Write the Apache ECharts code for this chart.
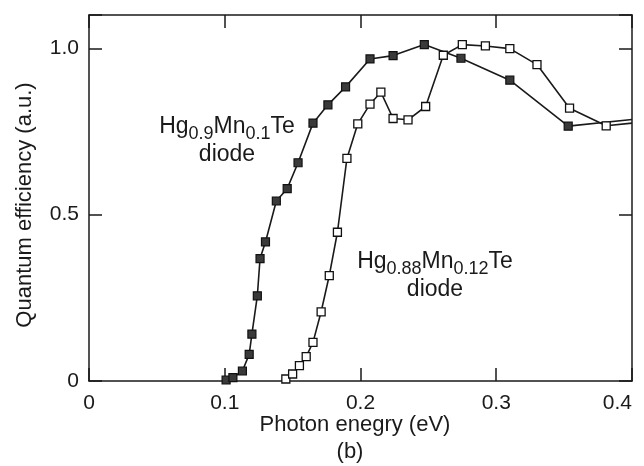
<!DOCTYPE html>
<html>
<head>
<meta charset="utf-8">
<script src="https://cdn.jsdelivr.net/npm/echarts@6/dist/echarts.min.js"></script>
<style>
  html, body { margin: 0; padding: 0; background: #fff; }
  #chart { width: 644px; height: 466px; }
</style>
</head>
<body>
<div id="chart"></div>
<script>
// Hg0.9Mn0.1Te diode (filled squares)
const filledX = [0.101, 0.106, 0.113, 0.118, 0.120, 0.124, 0.126, 0.130, 0.138, 0.146, 0.154, 0.165, 0.176, 0.189, 0.207, 0.224, 0.247, 0.274, 0.310, 0.353];
const filledY = [0.003, 0.010, 0.030, 0.080, 0.141, 0.256, 0.368, 0.418, 0.541, 0.578, 0.656, 0.775, 0.830, 0.884, 0.968, 0.978, 1.011, 0.970, 0.904, 0.766];
const filledTail = [0.400, 0.786];
// Hg0.88Mn0.12Te diode (open squares)
const openX = [0.145, 0.150, 0.155, 0.160, 0.165, 0.171, 0.177, 0.183, 0.190, 0.198, 0.207, 0.215, 0.224, 0.235, 0.248, 0.261, 0.275, 0.292, 0.310, 0.330, 0.354, 0.381];
const openY = [0.006, 0.021, 0.046, 0.073, 0.116, 0.208, 0.317, 0.447, 0.669, 0.773, 0.832, 0.868, 0.789, 0.785, 0.825, 0.979, 1.011, 1.007, 0.999, 0.951, 0.820, 0.767];
const openTail = [0.400, 0.775];

const xTickLabels = {0: '0', 0.1: '0.1', 0.2: '0.2', 0.3: '0.3', 0.4: '0.4'};
const yTickLabels = {0: '0', 0.5: '0.5', 1: '1.0'};
const xTitle = 'Photon enegry (eV)';
const yTitle = 'Quantum efficiency (a.u.)';
const panelTag = '(b)';

const FONT = '"Liberation Sans", Arial, sans-serif';
const INK = '#1a1a1a';

function buildData(xs, ys, tail) {
  const d = xs.map((x, i) => [x, ys[i]]);
  d.push({ value: tail, symbol: 'none' });
  return d;
}
function fmt(map) {
  return v => { const k = Math.round(v * 10) / 10; return map[k] !== undefined ? map[k] : ''; };
}

const chart = echarts.init(document.getElementById('chart'));
chart.setOption({
  animation: false,
  grid: { left: 89, right: 12, top: 15, bottom: 85, outerBoundsMode: 'none' },
  xAxis: [
    { type: 'value', min: 0, max: 0.4, interval: 0.1, position: 'bottom',
      axisLine: { show: true, onZero: false, lineStyle: { color: INK, width: 1.5 } },
      axisTick: { show: true, inside: true, length: 13, lineStyle: { color: INK, width: 1.5 } },
      axisLabel: { formatter: fmt(xTickLabels), fontFamily: FONT, fontSize: 21, color: INK, margin: 12, alignMaxLabel: 'right' },
      splitLine: { show: false } },
    { type: 'value', min: 0, max: 0.4, interval: 0.1, position: 'top',
      axisLine: { show: true, onZero: false, lineStyle: { color: INK, width: 1.5 } },
      axisTick: { show: true, inside: true, length: 13, lineStyle: { color: INK, width: 1.5 } },
      splitLine: { show: false }, axisLabel: { show: false } }
  ],
  yAxis: [
    { type: 'value', min: 0, max: 1.1, interval: 0.5, position: 'left',
      axisLine: { show: true, onZero: false, lineStyle: { color: INK, width: 1.5 } },
      axisTick: { show: true, inside: true, length: 13, lineStyle: { color: INK, width: 1.5 } },
      axisLabel: { formatter: fmt(yTickLabels), fontFamily: FONT, fontSize: 21, color: INK, margin: 10 },
      splitLine: { show: false } },
    { type: 'value', min: 0, max: 1.1, interval: 0.5, position: 'right',
      axisLine: { show: true, onZero: false, lineStyle: { color: INK, width: 1.5 } },
      axisTick: { show: true, inside: true, length: 13, lineStyle: { color: INK, width: 1.5 } },
      splitLine: { show: false }, axisLabel: { show: false } }
  ],
  series: [
    { name: 'Hg0.9Mn0.1Te diode', type: 'line', data: buildData(filledX, filledY, filledTail),
      symbol: 'rect', symbolSize: 8, showAllSymbol: true,
      lineStyle: { color: INK, width: 1.6 },
      itemStyle: { color: '#3a3a3a', borderColor: '#111', borderWidth: 1.2 } },
    { name: 'Hg0.88Mn0.12Te diode', type: 'line', data: buildData(openX, openY, openTail),
      symbol: 'rect', symbolSize: 8, showAllSymbol: true,
      lineStyle: { color: INK, width: 1.6 },
      itemStyle: { color: '#ffffff', borderColor: '#111', borderWidth: 1.3 } }
  ],
  graphic: [
    { type: 'text', x: 25, y: 205, rotation: Math.PI / 2,
      style: { text: yTitle, font: '22px ' + FONT, fill: INK, align: 'center', verticalAlign: 'middle' } },
    { type: 'text', x: 355, y: 425,
      style: { text: xTitle, font: '22px ' + FONT, fill: INK, align: 'center', verticalAlign: 'middle' } },
    { type: 'text', x: 350, y: 452,
      style: { text: panelTag, font: '22px ' + FONT, fill: INK, align: 'center', verticalAlign: 'middle' } },
    { type: 'text', x: 227, y: 115,
      style: {
        text: '{m|Hg}{s|0.9}{m|Mn}{s|0.1}{m|Te}', align: 'center', verticalAlign: 'top', fill: INK,
        rich: {
          m: { fontFamily: FONT, fontSize: 23, lineHeight: 24, fill: INK },
          s: { fontFamily: FONT, fontSize: 18, lineHeight: 18, padding: [14, 0, 0, 0], fill: INK }
        } } },
    { type: 'text', x: 227, y: 155,
      style: { text: 'diode', font: '23px ' + FONT, fill: INK, align: 'center', verticalAlign: 'middle' } },
    { type: 'text', x: 435, y: 250,
      style: {
        text: '{m|Hg}{s|0.88}{m|Mn}{s|0.12}{m|Te}', align: 'center', verticalAlign: 'top', fill: INK,
        rich: {
          m: { fontFamily: FONT, fontSize: 23, lineHeight: 24, fill: INK },
          s: { fontFamily: FONT, fontSize: 18, lineHeight: 18, padding: [14, 0, 0, 0], fill: INK }
        } } },
    { type: 'text', x: 435, y: 290,
      style: { text: 'diode', font: '23px ' + FONT, fill: INK, align: 'center', verticalAlign: 'middle' } }
  ]
});
</script>
</body>
</html>
